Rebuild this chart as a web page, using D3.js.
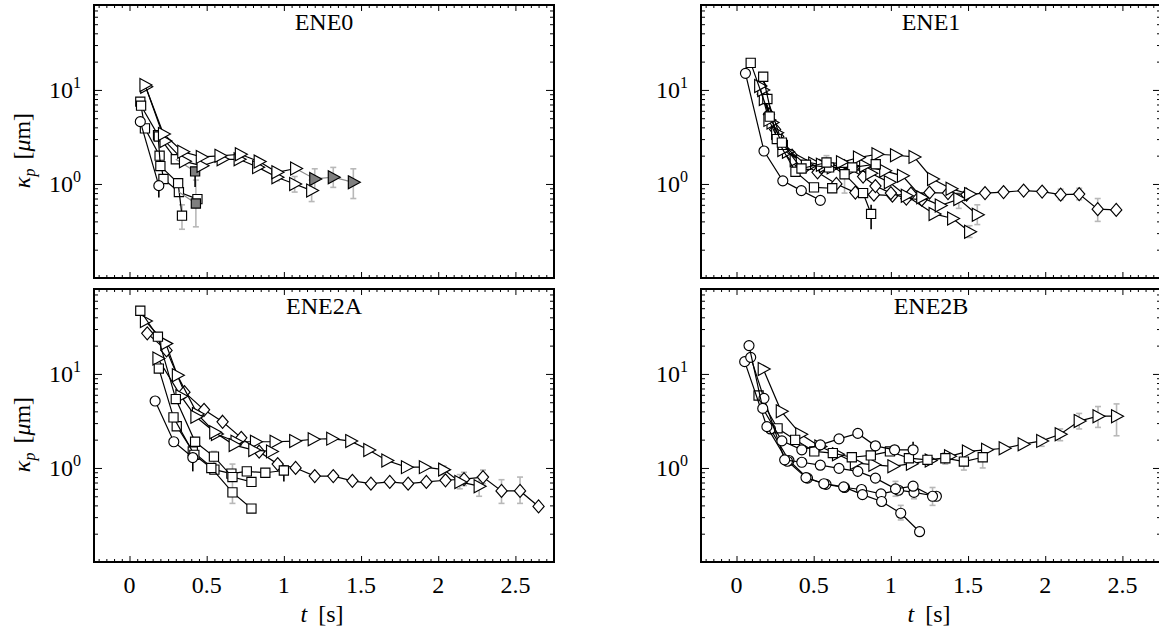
<!DOCTYPE html>
<html><head><meta charset="utf-8">
<script src="https://cdnjs.cloudflare.com/ajax/libs/d3/7.8.5/d3.min.js"></script>
<style>
body{margin:0;background:#fff}
svg{display:block}
text{font-family:"Liberation Serif","Times New Roman",serif;fill:#000}
</style>
</head><body>
<svg id="c" width="1159" height="630"></svg>
<script>
// ---------- tick labels ----------
const xTickLabels = [0, 0.5, 1, 1.5, 2, 2.5];
const yMajorTicks = [1, 10];
const yTickExponents = ["0", "1"];
const panelNames = ["ENE0", "ENE1", "ENE2A", "ENE2B"];

// ---------- ENE0 ----------
const ene0_sqA = [[0.07,7.5],[0.10,3.9],[0.195,2.0],[0.22,1.13],[0.32,0.82],[0.44,0.69]];
const ene0_sqB = [[0.075,6.8],[0.185,3.3],[0.20,1.55],[0.315,1.02],[0.34,0.46]];
const ene0_sqC = [[0.19,3.2],[0.30,1.83]];
const ene0_sqC_gray = [[0.30,1.83],[0.425,1.36]];
const ene0_sqD_gray = [[0.32,0.82],[0.43,0.62]];
const ene0_triA = [[0.10,11.3],[0.22,3.4],[0.345,2.2],[0.465,1.94],[0.586,1.99],[0.718,2.07],[0.84,1.73],[0.955,1.33],[1.076,1.46]];
const ene0_triA_gray = [[1.076,1.46],[1.2,1.13],[1.32,1.18],[1.45,1.04]];
const ene0_triB = [[0.105,10.8],[0.23,2.86],[0.356,1.74],[0.47,1.56],[0.6,1.83],[0.71,1.83],[0.83,1.51],[0.955,1.18],[1.07,1.0],[1.18,0.85]];
const ene0_circ = [[0.07,4.6],[0.19,0.96]];
const ene0_errGray = [[0.34,0.33,0.6],[0.43,0.35,1.1],[1.2,0.85,1.45],[1.32,0.92,1.5],[1.45,0.7,1.45],[1.18,0.65,1.1],[1.07,0.82,1.2],[0.955,1.08,1.4]];
const ene0_errBlack = [[0.19,0.72,0.96],[0.425,0.93,1.36]];

// ---------- ENE1 ----------
const ene1_circ = [[0.058,15],[0.178,2.24],[0.30,1.08],[0.42,0.85],[0.543,0.67]];
const ene1_sqA = [[0.092,19.4],[0.215,5.2],[0.294,2.75],[0.421,1.46],[0.583,1.69],[0.70,1.27],[0.82,0.80],[0.872,0.48]];
const ene1_sqB = [[0.173,13.8],[0.261,3.0],[0.382,1.35],[0.502,0.92],[0.62,0.9]];
const ene1_sqC = [[0.2,8],[0.3,2.6],[0.45,1.6],[0.6,1.5],[0.75,1.5],[0.902,1.62]];
const ene1_triA = [[0.15,11],[0.21,4.8],[0.3,2.3],[0.42,1.75],[0.55,1.6],[0.68,1.7],[0.79,1.91],[0.91,2.07],[1.03,2.02],[1.15,1.94],[1.27,1.13],[1.39,0.89],[1.51,0.78]];
const ene1_triB = [[0.17,10],[0.23,4.5],[0.33,2.2],[0.45,1.6],[0.57,1.55],[0.7,1.6],[0.83,1.56],[0.96,1.38],[1.075,1.22],[1.2,0.72],[1.32,0.59],[1.44,0.69],[1.56,0.47]];
const ene1_triC = [[0.18,8],[0.26,3.5],[0.38,1.8],[0.5,1.65],[0.62,1.5],[0.75,1.45],[0.87,1.3],[0.99,1.04],[1.1,0.75],[1.28,0.48],[1.4,0.43],[1.51,0.31]];
const ene1_diaA = [[0.16,11],[0.21,5.5],[0.27,3.2],[0.36,2.0],[0.45,1.55],[0.525,1.33],[0.647,1.0],[0.77,0.81],[0.89,0.77],[1.01,0.75],[1.13,0.79],[1.25,0.81],[1.37,0.8],[1.49,0.77],[1.61,0.8],[1.73,0.82],[1.86,0.85],[1.98,0.83],[2.1,0.77],[2.22,0.78],[2.34,0.54],[2.46,0.53]];
const ene1_diaB = [[0.17,9],[0.25,3.8],[0.4,1.7],[0.55,1.5],[0.7,1.55],[0.82,1.2],[0.9,0.95],[1.0,0.8],[1.1,0.7],[1.2,0.68]];
const ene1_errGray = [[0.583,1.4,2.0],[0.7,0.8,1.35],[1.44,0.55,0.8],[1.56,0.37,0.6],[1.51,0.27,0.36],[2.1,0.68,0.88],[2.22,0.68,0.9],[2.34,0.4,0.7]];
const ene1_errBlack = [[0.872,0.33,0.6]];

// ---------- ENE2A ----------
const ene2a_sqA = [[0.07,47],[0.184,24.9],[0.30,5.4],[0.425,1.9],[0.547,1.32],[0.667,0.8],[0.79,0.71]];
const ene2a_sqB = [[0.19,11.4],[0.285,3.45],[0.42,1.38],[0.53,1.0],[0.667,0.55],[0.79,0.37]];
const ene2a_sqC = [[0.306,2.78],[0.41,1.5],[0.55,0.96],[0.66,0.87],[0.76,0.92],[0.88,0.89],[1.0,0.94]];
const ene2a_circ = [[0.166,5.15],[0.287,1.9],[0.41,1.29]];
const ene2a_triA = [[0.103,36.5],[0.235,21],[0.31,9.7],[0.44,3.74],[0.563,2.3],[0.69,1.9],[0.816,1.9],[0.943,1.9],[1.07,1.93],[1.19,2.02],[1.31,2.05],[1.433,1.93],[1.55,1.55],[1.667,1.2],[1.794,1.02],[1.91,1.02],[2.035,0.96],[2.14,0.71],[2.265,0.64]];
const ene2a_triB = [[0.184,14.6],[0.333,5.8],[0.43,3.5],[0.552,2.4],[0.678,1.75],[0.805,1.55],[0.92,1.5]];
const ene2a_diaA = [[0.115,27],[0.24,17.8],[0.356,6.4],[0.483,4.15],[0.603,3.1],[0.724,2.09],[0.84,1.49],[0.96,1.1],[1.076,1.0],[1.2,0.82],[1.32,0.82],[1.444,0.73],[1.564,0.68],[1.686,0.71],[1.805,0.68],[1.923,0.71],[2.047,0.74],[2.167,0.76],[2.29,0.8],[2.41,0.57],[2.53,0.57],[2.65,0.39]];
const ene2a_errGray = [[0.547,0.95,1.5],[0.667,0.42,1.1],[2.035,0.85,1.05],[2.14,0.6,0.85],[2.167,0.65,0.9],[2.265,0.5,0.8],[2.29,0.68,0.95],[2.41,0.42,0.75],[2.53,0.42,0.8]];
const ene2a_errBlack = [[0.41,0.92,1.29],[1.0,0.72,0.94]];

// ---------- ENE2B ----------
const ene2b_cA = [[0.081,20],[0.17,4.3],[0.294,1.94],[0.423,1.56],[0.543,1.76],[0.664,2.04],[0.786,2.33],[0.9,1.72],[1.024,1.56],[1.144,1.56]];
const ene2b_cB = [[0.092,15],[0.178,5.5],[0.312,1.22],[0.423,1.15],[0.543,1.07],[0.664,0.99],[0.786,0.92],[0.9,0.78],[1.03,0.6],[1.144,0.64],[1.27,0.5]];
const ene2b_cC = [[0.053,13.5],[0.197,2.75],[0.33,1.18],[0.45,0.79],[0.566,0.68],[0.694,0.63],[0.816,0.52],[0.94,0.44],[1.064,0.33],[1.186,0.21]];
const ene2b_cD = [[0.22,2.6],[0.34,1.2],[0.46,0.78],[0.58,0.67],[0.70,0.62],[0.81,0.59],[0.936,0.53],[1.05,0.58],[1.15,0.55],[1.295,0.5]];
const ene2b_sq = [[0.143,5.9],[0.266,2.64],[0.38,1.99],[0.504,1.5],[0.624,1.44],[0.747,1.3],[0.87,1.36],[0.994,1.5],[1.117,1.27],[1.237,1.22],[1.353,1.27],[1.473,1.17],[1.595,1.3]];
const ene2b_tri = [[0.173,11.3],[0.29,4.0],[0.416,2.28],[0.54,1.69],[0.654,1.4],[0.77,1.13],[0.89,1.08],[1.013,1.04],[1.133,1.11],[1.255,1.2],[1.38,1.33],[1.496,1.5],[1.62,1.56],[1.734,1.62],[1.857,1.79],[1.977,1.94],[2.097,2.28],[2.22,3.15],[2.342,3.55],[2.462,3.55]];
const ene2b_errGray = [[1.03,0.5,0.72],[1.064,0.28,0.4],[1.15,0.47,0.65],[1.27,0.4,0.62],[1.353,1.1,1.45],[1.473,0.95,1.4],[1.595,1.0,1.55],[1.977,1.7,2.1],[2.097,1.95,2.6],[2.22,2.6,3.8],[2.342,2.7,4.5],[2.462,2.2,4.8]];
const ene2b_errBlack = [[1.024,1.56,1.75],[1.144,1.56,1.9]];

// ---------- series table built from arrays ----------
const BLACK = "#000", GRAYLINE = "#8c8c8c", WHITE = "#fff", GRAYFILL = "#7f7f7f";
const seriesTable = [
  [0, ene0_sqA, "sq", BLACK, WHITE], [0, ene0_sqB, "sq", BLACK, WHITE],
  [0, ene0_sqD_gray, "sq", GRAYLINE, GRAYFILL],
  [0, ene0_sqC, "sq", BLACK, WHITE], [0, ene0_sqC_gray, "sq", GRAYLINE, GRAYFILL],
  [0, ene0_triB, "tri", BLACK, WHITE], [0, ene0_triA_gray, "tri", GRAYLINE, GRAYFILL],
  [0, ene0_triA, "tri", BLACK, WHITE], [0, ene0_circ, "circ", BLACK, WHITE],
  [1, ene1_diaA, "dia", BLACK, WHITE], [1, ene1_diaB, "dia", BLACK, WHITE],
  [1, ene1_triC, "tri", BLACK, WHITE], [1, ene1_triB, "tri", BLACK, WHITE], [1, ene1_triA, "tri", BLACK, WHITE],
  [1, ene1_sqC, "sq", BLACK, WHITE], [1, ene1_sqB, "sq", BLACK, WHITE], [1, ene1_sqA, "sq", BLACK, WHITE],
  [1, ene1_circ, "circ", BLACK, WHITE],
  [2, ene2a_diaA, "dia", BLACK, WHITE], [2, ene2a_triA, "tri", BLACK, WHITE], [2, ene2a_triB, "tri", BLACK, WHITE],
  [2, ene2a_sqC, "sq", BLACK, WHITE], [2, ene2a_sqB, "sq", BLACK, WHITE], [2, ene2a_sqA, "sq", BLACK, WHITE],
  [2, ene2a_circ, "circ", BLACK, WHITE],
  [3, ene2b_tri, "tri", BLACK, WHITE], [3, ene2b_sq, "sq", BLACK, WHITE],
  [3, ene2b_cD, "circ", BLACK, WHITE], [3, ene2b_cC, "circ", BLACK, WHITE],
  [3, ene2b_cB, "circ", BLACK, WHITE], [3, ene2b_cA, "circ", BLACK, WHITE]
];
const errTable = [
  [0, ene0_errGray, "#b8b8b8", true], [0, ene0_errBlack, "#000", false],
  [1, ene1_errGray, "#b8b8b8", true], [1, ene1_errBlack, "#000", false],
  [2, ene2a_errGray, "#b8b8b8", true], [2, ene2a_errBlack, "#000", false],
  [3, ene2b_errGray, "#b8b8b8", true], [3, ene2b_errBlack, "#000", false]
];

// ---------- layout ----------
const svg = d3.select("#c");
const W = 460, H = 273;
const panelPos = [[94,5],[701,5],[94,289],[701,289]];
const xDomain = [-0.23, 2.75];
const yDomain = [0.1, 80];
const FS = 24;

const markerPaths = {
  circ: "M5,0A5,5 0 1,1 -5,0A5,5 0 1,1 5,0Z",
  sq: "M-4.6,-4.6h9.2v9.2h-9.2Z",
  tri: "M-5,-6.5L7,0L-5,6.5Z",
  dia: "M0,-6.5L5.6,0L0,6.5L-5.6,0Z"
};

const xMinor = d3.range(-4, 56).map(i => +(i*0.05).toFixed(2)).filter(v => Math.abs(v*2 - Math.round(v*2)) > 1e-6 && v > xDomain[0] && v < xDomain[1]);
const yMinor = [];
[0.1, 1, 10].forEach(d => { for (let k = 2; k <= 9; k++) { const v = +(k*d).toFixed(3); if (v < yDomain[1]) yMinor.push(v); } });

panelPos.forEach(([px, py], pi) => {
  const x = d3.scaleLinear().domain(xDomain).range([px, px + W]);
  const y = d3.scaleLog().domain(yDomain).range([py + H, py]);
  const g = svg.append("g");

  // ticks on all four sides, pointing inward
  const axes = [
    [d3.axisBottom(x), `translate(0,${py+H})`, xTickLabels, xMinor, 6, 3],
    [d3.axisTop(x), `translate(0,${py})`, xTickLabels, xMinor, 6, 3],
    [d3.axisLeft(y), `translate(${px},0)`, yMajorTicks, yMinor, 8, 4],
    [d3.axisRight(y), `translate(${px+W},0)`, yMajorTicks, yMinor, 8, 4]
  ];
  axes.forEach(([ax, tr, maj, min, lm, ln]) => {
    [[maj, lm], [min, ln]].forEach(([vals, len]) => {
      const a = ax.tickValues(vals).tickSize(-len).tickFormat("");
      g.append("g").attr("transform", tr).call(a)
        .call(s => s.select(".domain").remove())
        .call(s => s.selectAll("line").attr("stroke", "#000").attr("stroke-width", 1));
    });
  });

  // error bars
  const eg = g.append("g");
  errTable.filter(e => e[0] === pi).forEach(([_, arr, col, cap]) => {
    arr.forEach(([t, lo, hi]) => {
      eg.append("line").attr("x1", x(t)).attr("x2", x(t)).attr("y1", y(lo)).attr("y2", y(hi))
        .attr("stroke", col).attr("stroke-width", 1.6);
      if (cap) {
        [lo, hi].forEach(v => eg.append("line").attr("x1", x(t)-3).attr("x2", x(t)+3)
          .attr("y1", y(v)).attr("y2", y(v)).attr("stroke", col).attr("stroke-width", 1.6));
      }
    });
  });

  // series
  const line = d3.line().x(d => x(d[0])).y(d => y(d[1]));
  seriesTable.filter(s => s[0] === pi).forEach(([_, arr, m, lc, fc]) => {
    const sg = g.append("g");
    sg.append("path").attr("d", line(arr)).attr("fill", "none").attr("stroke", lc).attr("stroke-width", 1.2);
    const pts = fc === GRAYFILL ? arr.slice(1) : arr;
    sg.selectAll("path.m").data(pts).join("path").attr("class", "m")
      .attr("d", markerPaths[m])
      .attr("transform", d => `translate(${x(d[0])},${y(d[1])})`)
      .attr("fill", fc).attr("stroke", "#000").attr("stroke-width", 1.15);
  });

  // border
  g.append("rect").attr("x", px).attr("y", py).attr("width", W).attr("height", H)
    .attr("fill", "none").attr("stroke", "#000").attr("stroke-width", 2);

  // panel title
  g.append("text").attr("x", px + W/2).attr("y", py + 25).attr("text-anchor", "middle")
    .attr("font-size", FS).text(panelNames[pi]);

  // y tick labels 10^0, 10^1
  yMajorTicks.forEach((v, i) => {
    const t = g.append("text").attr("x", px - 13).attr("y", y(v) + 8)
      .attr("text-anchor", "end").attr("font-size", FS);
    t.append("tspan").text("10");
    t.append("tspan").attr("font-size", 16).attr("dy", -10).text(yTickExponents[i]);
  });

  // y title (left column)
  if (pi % 2 === 0) {
    const t = g.append("text").attr("transform", `translate(30,${py + H/2 + 9}) rotate(-90)`)
      .attr("text-anchor", "middle").attr("font-size", FS);
    t.append("tspan").attr("font-style", "italic").text("κ");
    t.append("tspan").attr("font-style", "italic").attr("font-size", 16).attr("dy", 5).text("p");
    t.append("tspan").attr("dy", -5).attr("dx", 9).text("[");
    t.append("tspan").attr("font-style", "italic").text("μ");
    t.append("tspan").text("m]");
  }

  // x tick labels + title (bottom row)
  if (pi >= 2) {
    xTickLabels.forEach(v => {
      g.append("text").attr("x", x(v)).attr("y", py + H + 31).attr("text-anchor", "middle")
        .attr("font-size", FS).text(String(v));
    });
    const t = g.append("text").attr("x", px + W/2 - 2).attr("y", py + H + 60)
      .attr("text-anchor", "middle").attr("font-size", FS);
    t.append("tspan").attr("font-style", "italic").text("t");
    t.append("tspan").attr("dx", 11).text("[s]");
  }
});
</script>
</body></html>
